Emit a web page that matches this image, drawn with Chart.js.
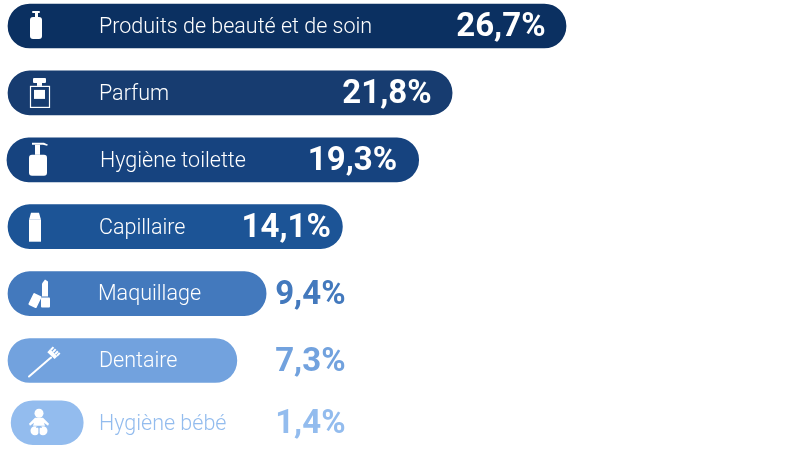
<!DOCTYPE html>
<html>
<head>
<meta charset="utf-8">
<title>Produits</title>
<script src="https://cdn.jsdelivr.net/npm/chart.js@4"></script>
<style>
  html, body { margin: 0; padding: 0; background: #fff; }
  #wrap { width: 800px; height: 469px; }
</style>
</head>
<body>
<div id="wrap"><canvas id="myChart"></canvas></div>
<script>
const categories = ["Produits de beauté et de soin", "Parfum", "Hygiène toilette", "Capillaire", "Maquillage", "Dentaire", "Hygiène bébé"];
const shares = [26.7, 21.8, 19.3, 14.1, 9.4, 7.3, 1.4];
// the bars in the picture are not to scale with the printed shares, so lengths are read separately
const barEnds = [26.7, 21.25, 19.65, 16.0, 12.35, 10.95, 3.6];
const barStarts = [0, 0, -0.05, 0, 0, 0, 0.15];
const barColors = ["#0b3061", "#173c70", "#16437f", "#1c5496", "#4379bd", "#72a2de", "#93bcee"];
const labelColors = ["#fff", "#fff", "#fff", "#fff", "#fff", "#fff", "#93bcee"];
const valueColors = ["#fff", "#fff", "#fff", "#fff", "#4379bd", "#72a2de", "#93bcee"];
const iconNames = ["pump", "perfume", "soap", "spray", "lipstick", "brush", "baby"];

const PX_PER_UNIT = 20.9;
const ROW_PITCH = 66.9;
const LAST_ROW_SHIFT = 0.07; // last row sits a little closer

function rr(c, x, y, w, h, r) { c.beginPath(); c.roundRect(x, y, w, h, r); c.fill(); }

// icons are drawn around the middle of the row
const icons = {
  pump(c) {
    rr(c, -4, -15, 8, 2, 1); c.fillRect(-1, -14, 3, 5);
    rr(c, -6, -9, 12, 22, 3);
  },
  perfume(c) {
    rr(c, -7, -15, 13, 5, 1); c.fillRect(-3, -10, 5, 3);
    c.strokeStyle = "#fff"; c.lineWidth = 1.2;
    c.strokeRect(-9.5, -6.5, 19, 21);
    c.fillRect(-6, -3, 11, 9);
  },
  soap(c) {
    c.beginPath(); c.moveTo(-6, -17); c.lineTo(6, -17); c.lineTo(10, -15); c.lineTo(9, -14); c.lineTo(5, -15); c.lineTo(-6, -15); c.closePath(); c.fill();
    c.fillRect(-3, -15, 5, 10);
    rr(c, -9, -5, 18, 21, 3);
  },
  spray(c) {
    c.beginPath(); c.moveTo(-6, -7); c.lineTo(-4, -14); c.lineTo(4, -14); c.lineTo(6, -7); c.closePath(); c.fill();
    c.fillRect(-6, -7, 12, 22);
  },
  lipstick(c) {
    c.beginPath(); c.moveTo(4, -10); c.lineTo(7, -14); c.lineTo(10, -12); c.lineTo(10, 3); c.lineTo(4, 3); c.closePath(); c.fill();
    rr(c, 3, 4, 9, 10, 1);
    c.save(); c.translate(-3, 7); c.rotate(0.45); rr(c, -4.5, -6.5, 9, 13, 1); c.restore();
  },
  brush(c) {
    c.strokeStyle = "#fff"; c.lineWidth = 2; c.lineCap = "round";
    c.beginPath(); c.moveTo(-15, 16); c.lineTo(7, -3); c.stroke();
    // head with a few gaps for the bristles
    c.save(); c.translate(9, -7); c.rotate(0.75);
    c.fillRect(-5, -1, 10, 4);
    [-5, -2, 1, 3.5].forEach(b => c.fillRect(b, -5, 2, 4));
    c.restore();
  },
  baby(c) {
    c.beginPath(); c.arc(0, -9.5, 4.5, 0, Math.PI * 2); c.fill();
    c.beginPath(); c.moveTo(-4, -5); c.lineTo(4, -5); c.lineTo(10, 1); c.lineTo(9, 3); c.lineTo(5, 0); c.lineTo(6, 3); c.lineTo(-6, 3); c.lineTo(-5, 0); c.lineTo(-9, 3); c.lineTo(-10, 1); c.closePath(); c.fill();
    c.beginPath(); c.arc(-4, 8, 4.5, 0, Math.PI * 2); c.arc(4, 8, 4.5, 0, Math.PI * 2); c.fill();
    c.fillStyle = barColors[6]; c.fillRect(-0.6, 5, 1.2, 9); c.fillRect(-3, 4, 6, 1);
  }
};
const iconCenters = [28, 32, 30, 27, 30, 36, 31];
const labelOffsets = [91, 91, 92, 91, 90, 91, 91];
const valueInsets = [20.5, 20.5, 21.5, 11.5];

const rowLabels = {
  id: "rowLabels",
  afterDatasetsDraw(chart) {
    const c = chart.ctx, xs = chart.scales.x;
    const meta = chart.getDatasetMeta(0);
    const x0 = xs.getPixelForValue(0);
    c.save();
    categories.forEach((name, i) => {
      const y = meta.data[i].y;

      c.save();
      c.translate(x0 + iconCenters[i], y);
      c.fillStyle = "#fff";
      icons[iconNames[i]](c);
      c.restore();

      c.textBaseline = "middle";
      c.textAlign = "left";
      c.fillStyle = labelColors[i];
      c.font = "300 21.5px Roboto";
      c.fillText(name, x0 + labelOffsets[i], y + 1.5);

      // long bars keep the figure inside, the short ones line up outside
      const inside = barEnds[i] >= 14;
      c.textAlign = "right";
      c.fillStyle = valueColors[i];
      c.font = "bold 33px Roboto";
      const right = inside ? xs.getPixelForValue(barEnds[i]) - valueInsets[i] : xs.getPixelForValue(16.15);
      c.fillText(shares[i].toFixed(1).replace(".", ",") + "%", right, y + 2);
    });
    c.restore();
  }
};

new Chart("myChart", {
  type: "bar",
  data: {
    datasets: [{
      data: categories.map((name, i) => ({ x: [barStarts[i], barEnds[i]], y: i === 6 ? i - LAST_ROW_SHIFT : i })),
      backgroundColor: barColors,
      barThickness: 44,
      borderRadius: 22,
      borderSkipped: false
    }]
  },
  plugins: [rowLabels],
  options: {
    indexAxis: "y",
    responsive: true,
    maintainAspectRatio: false,
    animation: false,
    layout: { padding: 0 },
    plugins: { legend: { display: false }, tooltip: { enabled: false } },
    scales: {
      x: { type: "linear", display: false, min: -8 / PX_PER_UNIT, max: 792 / PX_PER_UNIT },
      y: { type: "linear", display: false, offset: false, reverse: true, min: -26 / ROW_PITCH, max: 443 / ROW_PITCH }
    }
  }
});
</script>
</body>
</html>
